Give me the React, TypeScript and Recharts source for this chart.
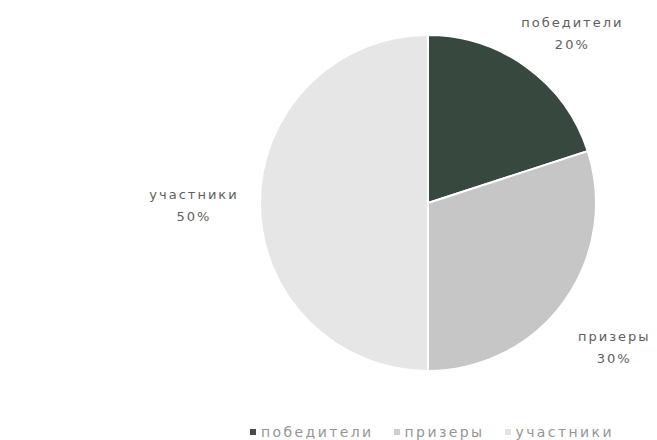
import { PieChart, Pie, Cell, Legend } from "recharts";

const categories = ["победители", "призеры", "участники"];
const shares = [20, 30, 50];
const colors = ["#37493f", "#c6c6c6", "#e6e6e6"];
const legendMarks = ["#4a4a4a", "#cfcfcf", "#e2e2e2"];

const data = categories.map((name, i) => ({ name, value: shares[i] }));

const RAD = Math.PI / 180;
// hand-tuned nudges so the labels sit where the original put them
const nudge = [
  { r: 52, dx: 15, dy: 7 },
  { r: 40, dx: 18, dy: 21 },
  { r: 62, dx: -4, dy: 1 },
];

function SliceLabel(props: any) {
  const { cx, cy, midAngle, outerRadius, index, name, value } = props;
  const n = nudge[index];
  const r = outerRadius + n.r;
  const x = cx + r * Math.cos(-midAngle * RAD) + n.dx;
  const y = cy + r * Math.sin(-midAngle * RAD) + n.dy;
  return (
    <text
      x={x}
      y={y}
      textAnchor="middle"
      fill="#5e5e5e"
      fontSize={13}
      fontFamily="DejaVu Sans"
      letterSpacing={2}
    >
      <tspan x={x} dy={-5}>{name}</tspan>
      <tspan x={x} dy={22}>{value}%</tspan>
    </text>
  );
}

function LegendBox() {
  return (
    <div style={{ display: "flex", gap: 20, fontFamily: "DejaVu Sans", fontSize: 14, color: "#959595", letterSpacing: 2.4 }}>
      {categories.map((c, i) => (
        <span key={c} style={{ display: "flex", alignItems: "center" }}>
          <span style={{ width: 6, height: 6, background: legendMarks[i], marginRight: 5, display: "inline-block" }} />
          {c}
        </span>
      ))}
    </div>
  );
}

export default function App() {
  return (
    <div style={{ position: "absolute", left: 0, top: 0, background: "#fff" }}>
      <PieChart width={657} height={440}>
        <Pie
          data={data}
          dataKey="value"
          nameKey="name"
          cx={423}
          cy={198}
          outerRadius={168}
          startAngle={90}
          endAngle={-270}
          stroke="#ffffff"
          strokeWidth={2}
          label={SliceLabel}
          labelLine={false}
          isAnimationActive={false}
        >
          {data.map((d, i) => (
            <Cell key={d.name} fill={colors[i]} />
          ))}
        </Pie>
        <Legend content={<LegendBox />} wrapperStyle={{ left: 250, top: 424, width: "auto" }} />
      </PieChart>
    </div>
  );
}
